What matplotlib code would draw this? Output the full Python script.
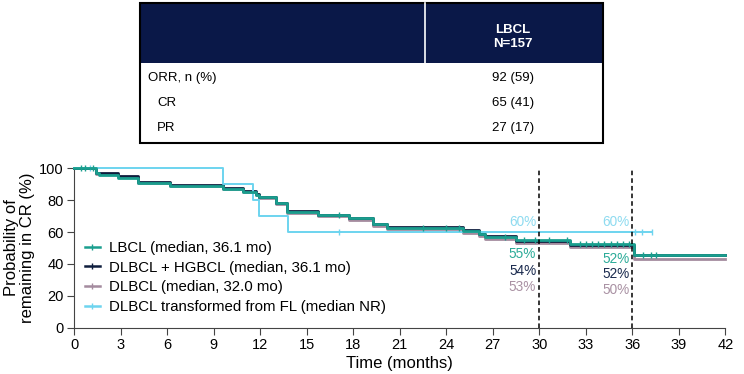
import numpy as np
import matplotlib
matplotlib.use("Agg")
import matplotlib.pyplot as plt
from matplotlib.patches import Rectangle
from matplotlib.lines import Line2D

plt.rcParams['font.family'] = ['Liberation Sans', 'DejaVu Sans']

# ---- table data ----
table_header = "LBCL\nN=157"
table_rows = ["ORR, n (%)", "CR", "PR"]
table_indent = [False, True, True]
table_values = ["92 (59)", "65 (41)", "27 (17)"]

# ---- KM data ----
lbcl_t = [0, 1.4, 1.6, 2.8, 4.1, 6.2, 9.6, 10.9, 11.7, 11.9, 13.0, 13.7, 15.7, 17.7, 19.3, 20.2, 25.1, 26.1, 26.5, 28.5, 32.0, 36.1, 42]
lbcl_s = [100, 96.9, 95.8, 94.2, 90.6, 88.9, 87.0, 84.9, 83.2, 82.0, 78.0, 72.8, 70.6, 68.6, 64.8, 62.8, 60.7, 58.6, 57.1, 54.8, 52.3, 45.6, 45.6]
lbcl_cens = [0.4, 0.7, 1.2, 17.1, 22.5, 24.0, 24.8, 27.8, 29.0, 29.7, 30.6, 31.8, 32.6, 33.0, 33.4, 33.8, 34.2, 34.6, 35.0, 35.4, 35.8, 36.7, 37.2, 37.5]

dh_t = [0, 1.4, 2.8, 4.1, 6.2, 9.6, 10.9, 11.7, 11.9, 13.0, 13.7, 15.7, 17.7, 19.3, 20.2, 25.1, 26.1, 26.5, 28.5, 32.0, 36.1, 42]
dh_s = [100, 96.9, 95.0, 91.2, 89.3, 87.6, 85.8, 83.8, 82.3, 78.4, 73.2, 71.0, 69.0, 65.0, 63.0, 61.0, 59.0, 57.4, 54.2, 51.8, 45.4, 45.4]

dl_t = [0, 1.4, 2.8, 4.1, 6.2, 9.6, 10.9, 11.7, 11.9, 13.0, 13.7, 15.7, 17.7, 19.3, 20.2, 25.1, 26.1, 26.5, 28.5, 32.0, 36.1, 42]
dl_s = [100, 96.5, 94.5, 90.6, 88.6, 86.8, 85.0, 83.0, 81.5, 77.6, 72.0, 70.0, 67.6, 64.0, 62.0, 59.6, 57.4, 55.6, 53.2, 50.4, 43.0, 43.0]

fl_t = [0, 9.6, 11.55, 11.9, 13.8, 37.25]
fl_s = [100, 90, 80, 70, 60, 60]
fl_cens = [1.0, 17.1, 36.2, 36.6, 37.25]

legend_labels = ["LBCL (median, 36.1 mo)", "DLBCL + HGBCL (median, 36.1 mo)",
                 "DLBCL (median, 32.0 mo)", "DLBCL transformed from FL (median NR)"]
col_lbcl = "#1a9e8e"
col_dh = "#0e1d3d"
col_dl = "#a48b9e"
col_fl = "#6dd4ef"

landmarks = [30, 36]
ann_30 = ["60%", "55%", "54%", "53%"]
ann_36 = ["60%", "52%", "52%", "50%"]
ann_y30 = [66.5, 46.2, 35.8, 25.7]
ann_y36 = [66.5, 43.1, 33.5, 23.7]
ann_cols = ["#8edbf0", "#2bab98", "#1a2a4e", "#a991a3"]

W, H = 744, 374
fig = plt.figure(figsize=(W/100, H/100), dpi=100)

# ---- table ----
tax = fig.add_axes([0, 0, 1, 1])
tax.set_xlim(0, W); tax.set_ylim(H, 0); tax.axis('off')
tx0, tx1, ty0, ty1 = 140, 603, 3, 143
hdr_bot = 63
div_x = 425
tax.add_patch(Rectangle((tx0, ty0), tx1-tx0, hdr_bot-ty0, facecolor="#0a1848", edgecolor='none'))
tax.plot([div_x, div_x], [ty0, hdr_bot], color='white', lw=1.2)
tax.add_patch(Rectangle((tx0, ty0), tx1-tx0, ty1-ty0, facecolor='none', edgecolor='black', lw=1.5))
vcx = 513
tax.text(vcx, 37, table_header, color='white', fontsize=9.5, fontweight='bold', ha='center', va='center', linespacing=1.25)
row_y = [78, 103, 128]
for lab, ind, val, y in zip(table_rows, table_indent, table_values, row_y):
    tax.text(157 if ind else 148, y, lab, fontsize=9.5, ha='left', va='center')
    tax.text(vcx, y, val, fontsize=9.5, ha='center', va='center')

# ---- KM plot ----
left = 74.3 / W
right = 725.3 / W
bottom = 1 - 327.7 / H
top = 1 - 168.3 / H
ax = fig.add_axes([left, bottom, right-left, top-bottom])
ax.set_xlim(0, 42)
ax.set_ylim(0, 100)

def draw(t, s, color, lw, cens=None, z=2):
    ax.step(t, s, where='post', color=color, lw=lw, zorder=z, clip_on=False)
    if cens:
        ct = np.array(cens)
        idx = np.searchsorted(np.array(t), ct, side='right') - 1
        cs = np.array(s)[idx]
        ax.plot(ct, cs, linestyle='none', marker='|', markersize=4, mew=1.0, color=color, zorder=z, clip_on=False)

draw(dl_t, dl_s, col_dl, 2.0, z=2)
draw(dh_t, dh_s, col_dh, 2.0, z=3)
draw(fl_t, fl_s, col_fl, 1.4, fl_cens, z=4)
draw(lbcl_t, lbcl_s, col_lbcl, 2.0, lbcl_cens, z=5)

for xv in landmarks:
    ax.plot([xv, xv], [0, 100], color='black', lw=1.1, ls=(0, (3, 2)), zorder=6, clip_on=False)

for xv, texts, ys in zip(landmarks, [ann_30, ann_36], [ann_y30, ann_y36]):
    for txt, c, y in zip(texts, ann_cols, ys):
        ax.text(xv - 0.2, y, txt, color=c, fontsize=9.8, ha='right', va='center')

for sp in ['top', 'right']:
    ax.spines[sp].set_visible(False)
ax.spines['left'].set_color('#444444')
ax.spines['bottom'].set_color('#444444')
ax.set_xticks(np.arange(0, 43, 3))
ax.set_yticks(np.arange(0, 101, 20))
ax.tick_params(labelsize=10.5, length=5, color='#444444', pad=2.5)
ax.set_xlabel("Time (months)", fontsize=12, labelpad=3)
ax.set_ylabel("Probability of\nremaining in CR (%)", fontsize=12, labelpad=3, linespacing=1.1)

handles = [Line2D([], [], color=c, lw=1.8, marker='|', markersize=4) for c in [col_lbcl, col_dh, col_dl, col_fl]]
ax.legend(handles, legend_labels, loc='lower left', bbox_to_anchor=(0.0, 0.02), frameon=False,
          fontsize=10.8, handlelength=1.0, handletextpad=0.6, labelspacing=0.38, borderaxespad=0.3)

fig.savefig("out.png", dpi=100)
